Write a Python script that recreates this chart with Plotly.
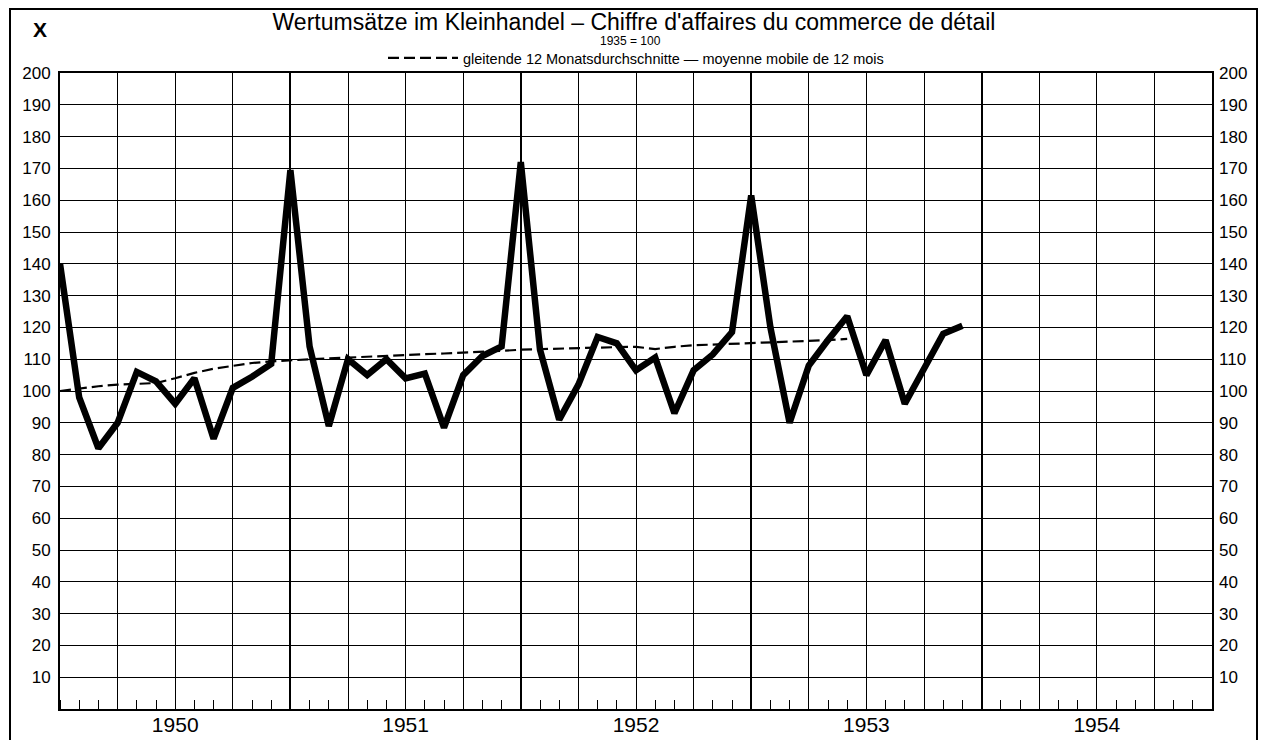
import plotly.graph_objects as go
import pandas as pd

# ---- data ----
months = [str(p) for p in pd.period_range("1949-12", "1953-11", freq="M")]
retail = [140, 98, 82, 90, 106, 103, 96, 104, 85, 101, 104.5, 108.5,
          169.5, 114, 89, 110, 105, 110, 104, 105.5, 88.5, 105, 111, 114,
          172, 113, 91, 102, 117, 115, 106.5, 110.5, 93, 106.5, 111.5, 118.5,
          161.5, 120, 90, 108, 116, 123.5, 105, 116, 96, 107, 118, 120.5]
moving_avg = [100, 100.8, 101.5, 102, 102.2, 102.5, 104, 105.7, 107, 108, 108.8, 109.3,
              109.7, 110, 110.3, 110.5, 110.8, 111.2, 111.5, 111.6, 111.8, 112, 112.3, 112.6,
              113, 113.2, 113.3, 113.4, 113.6, 113.8, 113.9, 113.2, 113.9, 114.4, 114.6, 114.8,
              115, 115.2, 115.4, 115.7, 116, 116.4]
years = ["1950", "1951", "1952", "1953", "1954"]
y_ticks = list(range(10, 201, 10))

FONT = "Liberation Sans"

# the page body adds an 8px margin, so the figure is sized/offset to compensate
W, H = 1259, 732
L, R, T, B = 52, 55, 65, 31
PW, PH = W - L - R, H - T - B


def month_pos(m):
    # each monthly value is plotted at the end of its month (months since 1 Jan 1950)
    y, mo = map(int, m.split("-"))
    return (y - 1950) * 12 + mo


def px_x(sx):  # screen x -> paper x
    return (sx - 8 - L) / PW


def px_y(sy):  # screen y -> paper y
    return (H - B - (sy - 8)) / PH


x_retail = [month_pos(m) for m in months]
x_ma = [month_pos(m) for m in months[:len(moving_avg)]]

n_months = len(years) * 12
quarter_vals = list(range(0, n_months + 1, 3))
quarter_text = [years[(v - 6) // 12] if (v - 6) % 12 == 0 and v < n_months else "" for v in quarter_vals]

fig = go.Figure()
fig.add_trace(go.Scatter(
    x=x_retail, y=retail, mode="lines", showlegend=False,
    line=dict(color="black", width=6.5), name="Wertumsätze",
))
fig.add_trace(go.Scatter(
    x=x_ma, y=moving_avg, mode="lines",
    name="gleitende 12 Monatsdurchschnitte — moyenne mobile de 12 mois",
    line=dict(color="black", width=2.2, dash="11px,5px"),
))
# invisible helper trace so the overlay axes (year lines, right-hand labels) are drawn
fig.add_trace(go.Scatter(
    x=[x_retail[0]], y=[retail[0]], xaxis="x2", yaxis="y2", mode="markers",
    marker=dict(opacity=0), showlegend=False, hoverinfo="skip",
))

fig.update_layout(
    width=W, height=H, autosize=False,
    margin=dict(l=L, r=R, t=T, b=B, pad=0),
    paper_bgcolor="white", plot_bgcolor="white",
    font=dict(family=FONT, color="black"),
    title=dict(
        text="Wertumsätze im Kleinhandel – Chiffre d'affaires du commerce de détail",
        x=px_x(634), xref="paper", xanchor="center", y=1 - (21.5 - 8) / H, yanchor="middle",
        font=dict(family=FONT, size=23, color="black"),
    ),
    xaxis=dict(
        range=[0, n_months], tickmode="array", tickvals=quarter_vals, ticktext=quarter_text,
        showgrid=True, gridcolor="black", gridwidth=1.3, zeroline=False,
        showline=True, linecolor="black", linewidth=2, mirror=True, automargin=False,
        ticks="", ticklabelstandoff=-4, tickfont=dict(family=FONT, size=21, color="black"),
        minor=dict(tick0=0, dtick=1, ticks="inside", ticklen=9, tickwidth=1.3,
                   tickcolor="black", showgrid=False),
    ),
    xaxis2=dict(
        range=[0, n_months], overlaying="x", anchor="y2", tick0=0, dtick=12,
        showgrid=True, gridcolor="black", gridwidth=2.0, zeroline=False, automargin=False,
        showline=False, ticks="", showticklabels=False,
    ),
    yaxis=dict(
        range=[0, 200], tickmode="array", tickvals=y_ticks,
        showgrid=True, gridcolor="black", gridwidth=1.3, zeroline=False,
        showline=True, linecolor="black", linewidth=2, mirror=True, automargin=False,
        ticks="", ticklabelstandoff=4, tickfont=dict(family=FONT, size=17, color="black"),
    ),
    yaxis2=dict(
        range=[0, 200], overlaying="y", side="right", anchor="x2", automargin=False,
        tickmode="array", tickvals=y_ticks, showgrid=False, zeroline=False,
        showline=False, ticks="", ticklabelstandoff=6,
        tickfont=dict(family=FONT, size=17, color="black"),
    ),
    legend=dict(
        orientation="h", x=px_x(636), xanchor="center", y=px_y(58), yanchor="middle",
        font=dict(family=FONT, size=14.5, color="black"), itemwidth=70,
        bgcolor="rgba(0,0,0,0)",
    ),
    annotations=[
        dict(text="X", xref="paper", yref="paper", x=px_x(40), y=px_y(30),
             showarrow=False, xanchor="center", yanchor="middle",
             font=dict(family=FONT, size=21, color="black", weight="bold")),
        dict(text="1935 = 100", xref="paper", yref="paper", x=px_x(630),
             y=px_y(40.5), showarrow=False, xanchor="center", yanchor="middle",
             font=dict(family=FONT, size=12, color="black")),
    ],
    shapes=[
        dict(type="rect", xref="paper", yref="paper",
             x0=px_x(10), x1=px_x(1257),
             y0=px_y(750), y1=px_y(9),
             line=dict(color="black", width=2), fillcolor="rgba(0,0,0,0)"),
    ],
)

fig.write_html("out.html")
